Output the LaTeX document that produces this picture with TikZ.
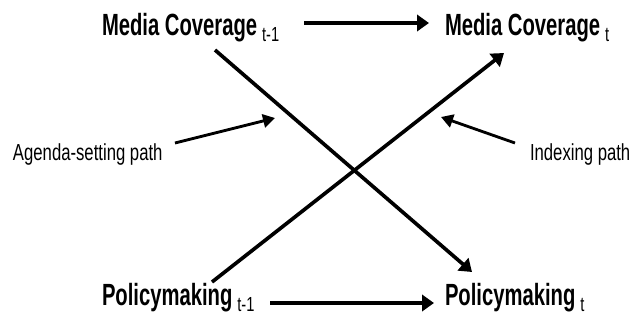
\documentclass[tikz,border=0pt]{standalone}
\usepackage{fontspec}
\setmainfont{Liberation Sans}
\newfontfamily\narrowfont[FakeStretch=0.72]{Liberation Sans}
\newfontfamily\boldnarrow[FakeStretch=0.66,UprightFont={* Bold}]{Liberation Sans}
\usepackage{tikz}
\usetikzlibrary{arrows.meta, calc}
\tikzset{
  varlabel/.style={inner sep=0pt, outer sep=0pt, anchor=base west,
    font=\boldnarrow\fontsize{21.8}{24}\selectfont},
  pathlabel/.style={inner sep=0pt, outer sep=0pt, anchor=base west,
    font=\narrowfont\fontsize{16.5}{18}\selectfont},
  arrow/.style={-{Triangle[length=8.5pt,width=11.5pt]}, line width=2.6pt, color=black},
  thinarrow/.style={-{Triangle[length=8.5pt,width=9.5pt]}, line width=2pt, color=black}
}
\newcommand{\tsub}[1]{\hspace{3.5pt}\raisebox{-4.5pt}{\narrowfont\fontsize{14.5}{16}\selectfont #1}}

\begin{document}
\begin{tikzpicture}[x=0.025cm, y=-0.025cm]
  \useasboundingbox (0,0) rectangle (633,324);

  % the four variables
  \node[varlabel] (mcprev) at (102,35) {Media Coverage\tsub{t-1}};
  \node[varlabel] (mcnow) at (445,35) {Media Coverage\tsub{t}};
  \node[varlabel] (pmprev) at (102,305) {Policymaking\tsub{t-1}};
  \node[varlabel] (pmnow) at (445,305) {Policymaking\tsub{t}};

  % path names
  \node[pathlabel] (agenda) at (13,160) {Agenda-setting path};
  \node[pathlabel] (indexing) at (530,160) {Indexing path};

  \coordinate (agtip) at (275,118);
  \coordinate (idxtip) at (441,117);

  % autoregressive arrows
  \draw[arrow] ($(mcprev.base east)+(25,-12)$) -- ($(mcnow.base west)+(-16,-12)$);
  \draw[arrow] ($(pmprev.base east)+(16,-2)$) -- ($(pmnow.base west)+(-11,-2)$);

  % cross-lagged arrows
  \draw[arrow] ($(mcprev.base west)+(113,15)$) -- ($(pmnow.base west)+(27,-33)$);
  \draw[arrow] ($(pmprev.base west)+(110,-23)$) -- ($(mcnow.base west)+(59,18)$);

  % pointers to the paths
  \draw[thinarrow] ($(agenda.base west)+(162,-17)$) -- (agtip);
  \draw[thinarrow] ($(indexing.base west)+(-15,-17)$) -- (idxtip);
\end{tikzpicture}
\end{document}
